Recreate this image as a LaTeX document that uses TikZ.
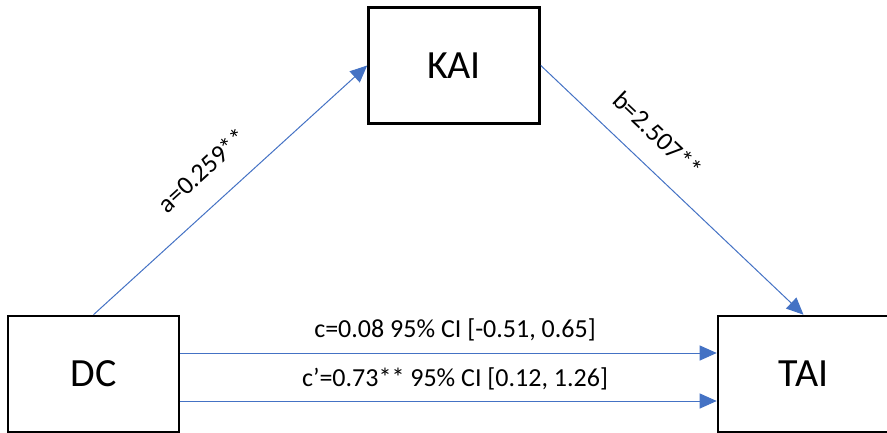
\documentclass[tikz,border=0pt]{standalone}
\usepackage{fontspec}
\setmainfont{Carlito}
\usetikzlibrary{arrows.meta}
\definecolor{linkblue}{HTML}{4472C4}
\tikzset{
  varbox/.style={draw=black, line width=2.6pt, fill=white, minimum width=171pt,
    minimum height=116pt, inner sep=0pt, font=\fontsize{40}{48}\selectfont},
  conn/.style={draw=linkblue, line width=1pt,
    -{Triangle[length=17pt,width=15pt]}, shorten >=0pt},
  coef/.style={inner sep=0pt, font=\fontsize{26}{31}\selectfont}
}
\begin{document}
\begin{tikzpicture}[x=1pt,y=-1pt]
  \useasboundingbox (0,0) rectangle (887,432);
  \clip (0,0) rectangle (887,432);
  % the three variables
  \node[varbox] (KAI) at (454,65.5) {KAI};
  \node[varbox] (DC) at (93.5,374) {DC};
  \node[varbox] (TAI) at (803.5,374) {TAI};
  % indirect path a, b
  \draw[conn] (DC.north) -- node[coef, sloped, above=24pt, pos=0.48] {a=0.259**} (KAI.west);
  \draw[conn] (KAI.east) -- node[coef, sloped, above=21pt, pos=0.365] {b=2.507**} (TAI.north);
  % total and direct effects
  \draw[conn] ([yshift=21pt]DC.east) -- ([yshift=21pt]TAI.west);
  \draw[conn] ([yshift=-27pt]DC.east) -- ([yshift=-27pt]TAI.west);
  \node[coef, anchor=base] (ctot) at (455,337) {c=0.08 95\% CI [-0.51, 0.65]};
  \node[coef, anchor=base] (cdir) at (455,386) {c’=0.73** 95\% CI [0.12, 1.26]};
\end{tikzpicture}
\end{document}
